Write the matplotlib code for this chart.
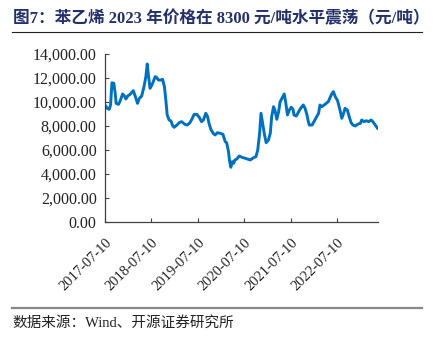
import matplotlib as mpl
mpl.use('Agg')
import matplotlib.pyplot as plt
import matplotlib.transforms as mtransforms
from matplotlib.ticker import FuncFormatter, MultipleLocator

# 苯乙烯价格（元/吨），横轴为小数年份
years = [2017.52, 2017.57, 2017.61, 2017.64, 2017.67, 2017.71, 2017.74, 2017.76,
         2017.81, 2017.84, 2017.90, 2017.94, 2017.97, 2018.01, 2018.06, 2018.13,
         2018.17, 2018.22, 2018.26, 2018.31, 2018.36, 2018.40, 2018.43, 2018.45,
         2018.49, 2018.53, 2018.56, 2018.60, 2018.63, 2018.67, 2018.72, 2018.76,
         2018.80, 2018.83, 2018.86, 2018.90, 2018.94, 2018.98, 2019.01, 2019.07,
         2019.12, 2019.17, 2019.24, 2019.29, 2019.35, 2019.39, 2019.44, 2019.50,
         2019.55, 2019.60, 2019.64, 2019.69, 2019.73, 2019.76, 2019.80, 2019.85,
         2019.89, 2019.94, 2020.00, 2020.06, 2020.11, 2020.14, 2020.18, 2020.20,
         2020.23, 2020.26, 2020.29, 2020.32, 2020.36, 2020.41, 2020.47, 2020.54,
         2020.61, 2020.65, 2020.72, 2020.77, 2020.81, 2020.85, 2020.88, 2020.91,
         2020.95, 2020.99, 2021.04, 2021.08, 2021.11, 2021.15, 2021.18, 2021.22,
         2021.26, 2021.29, 2021.33, 2021.38, 2021.41, 2021.45, 2021.49, 2021.53,
         2021.57, 2021.59, 2021.64, 2021.69, 2021.72, 2021.76, 2021.79, 2021.83,
         2021.87, 2021.90, 2021.92, 2021.98, 2022.02, 2022.08, 2022.12, 2022.15,
         2022.19, 2022.26, 2022.33, 2022.37, 2022.41, 2022.44, 2022.48, 2022.53,
         2022.59, 2022.62, 2022.66, 2022.69, 2022.74, 2022.78, 2022.82, 2022.86,
         2022.91, 2022.96, 2023.02, 2023.05, 2023.10, 2023.15, 2023.20, 2023.25,
         2023.29, 2023.34, 2023.39]
price = [9750, 9470, 9390, 9750, 11600, 11560, 10720, 9890,
         9800, 10030, 10670, 10500, 10250, 10500, 10640, 10940,
         10500, 9890, 10300, 10500, 11280, 12110, 13170, 12390,
         11140, 11420, 11690, 12110, 12060, 11830, 11830, 11890,
         11280, 10170, 8920, 8500, 8420, 8000, 7890, 8080,
         8280, 8360, 8140, 8080, 8280, 8560, 8970, 8970,
         8720, 8360, 8500, 9060, 8780, 8220, 7720, 7390,
         7250, 7440, 7390, 7310, 6690, 6610, 5860, 5170,
         4560, 5030, 4890, 5170, 5250, 5500, 5390, 5310,
         5220, 5170, 5360, 5440, 6000, 7390, 9060, 8360,
         7390, 6610, 6830, 7390, 8780, 9610, 9330, 8560,
         9190, 10000, 10300, 10670, 10030, 8920, 9330, 9560,
         9390, 8920, 8830, 9190, 9390, 9610, 9750, 9470,
         8920, 8360, 8080, 8080, 8360, 8780, 9060, 9750,
         9610, 9810, 10030, 10390, 10720, 10860, 10440, 10110,
         9190, 8640, 9060, 9470, 9330, 8780, 8280, 8080,
         8000, 8140, 8220, 8500, 8360, 8440, 8360, 8500,
         8360, 8080, 7810]

tick_pos = [2017.52, 2018.52, 2019.52, 2020.52, 2021.52, 2022.52]
tick_labels = ['2017-07-10', '2018-07-10', '2019-07-10',
               '2020-07-10', '2021-07-10', '2022-07-10']

title = '图7：苯乙烯 2023 年价格在 8300 元/吨水平震荡（元/吨）'
source = '数据来源：Wind、开源证券研究所'

serif = ['Liberation Serif', 'Noto Sans CJK SC']
plt.rcParams['font.family'] = serif

fig = plt.figure(figsize=(4.35, 3.39), dpi=100)
ax = fig.add_axes([105 / 435, 1 - 222 / 339, 273 / 435, 168 / 339])

ax.plot(years, price, color='#0070C0', linewidth=2.1, solid_joinstyle='round')

ax.set_xlim(2017.52, 2023.40)
ax.set_ylim(0, 14000)
ax.yaxis.set_major_locator(MultipleLocator(2000))
ax.yaxis.set_major_formatter(FuncFormatter(lambda v, p: f'{v:,.2f}'))
ax.set_xticks(tick_pos)
ax.set_xticklabels(tick_labels, rotation=45, ha='right', va='top',
                   rotation_mode='anchor', fontsize=10.5)
shift = mtransforms.ScaledTranslation(2 / 100, 0, fig.dpi_scale_trans)
for lab in ax.get_xticklabels():
    lab.set_transform(lab.get_transform() + shift)

for s in ['top', 'right']:
    ax.spines[s].set_visible(False)
for s in ['left', 'bottom']:
    ax.spines[s].set_color('#404040')
    ax.spines[s].set_linewidth(0.9)

ax.tick_params(axis='both', direction='in', length=3, width=0.8,
               color='#404040', labelcolor='#222222')
ax.tick_params(axis='y', pad=6, labelsize=11.5)
ax.tick_params(axis='x', pad=10)

fig.text(13 / 435, 1 - 19 / 339, title, fontsize=12, fontweight='bold',
         color='#23306C', ha='left', va='center', family=serif)
fig.add_artist(plt.Line2D([12 / 435, 422 / 435], [1 - 32 / 339, 1 - 32 / 339],
                          color='#222222', linewidth=0.8))
fig.add_artist(plt.Line2D([12 / 435, 422 / 435], [1 - 307.5 / 339, 1 - 307.5 / 339],
                          color='#888888', linewidth=1.6))
fig.text(12 / 435, 1 - 323 / 339, source, fontsize=10.5, color='#222222',
         ha='left', va='center', family=serif)

fig.savefig('out.png', dpi=100)
